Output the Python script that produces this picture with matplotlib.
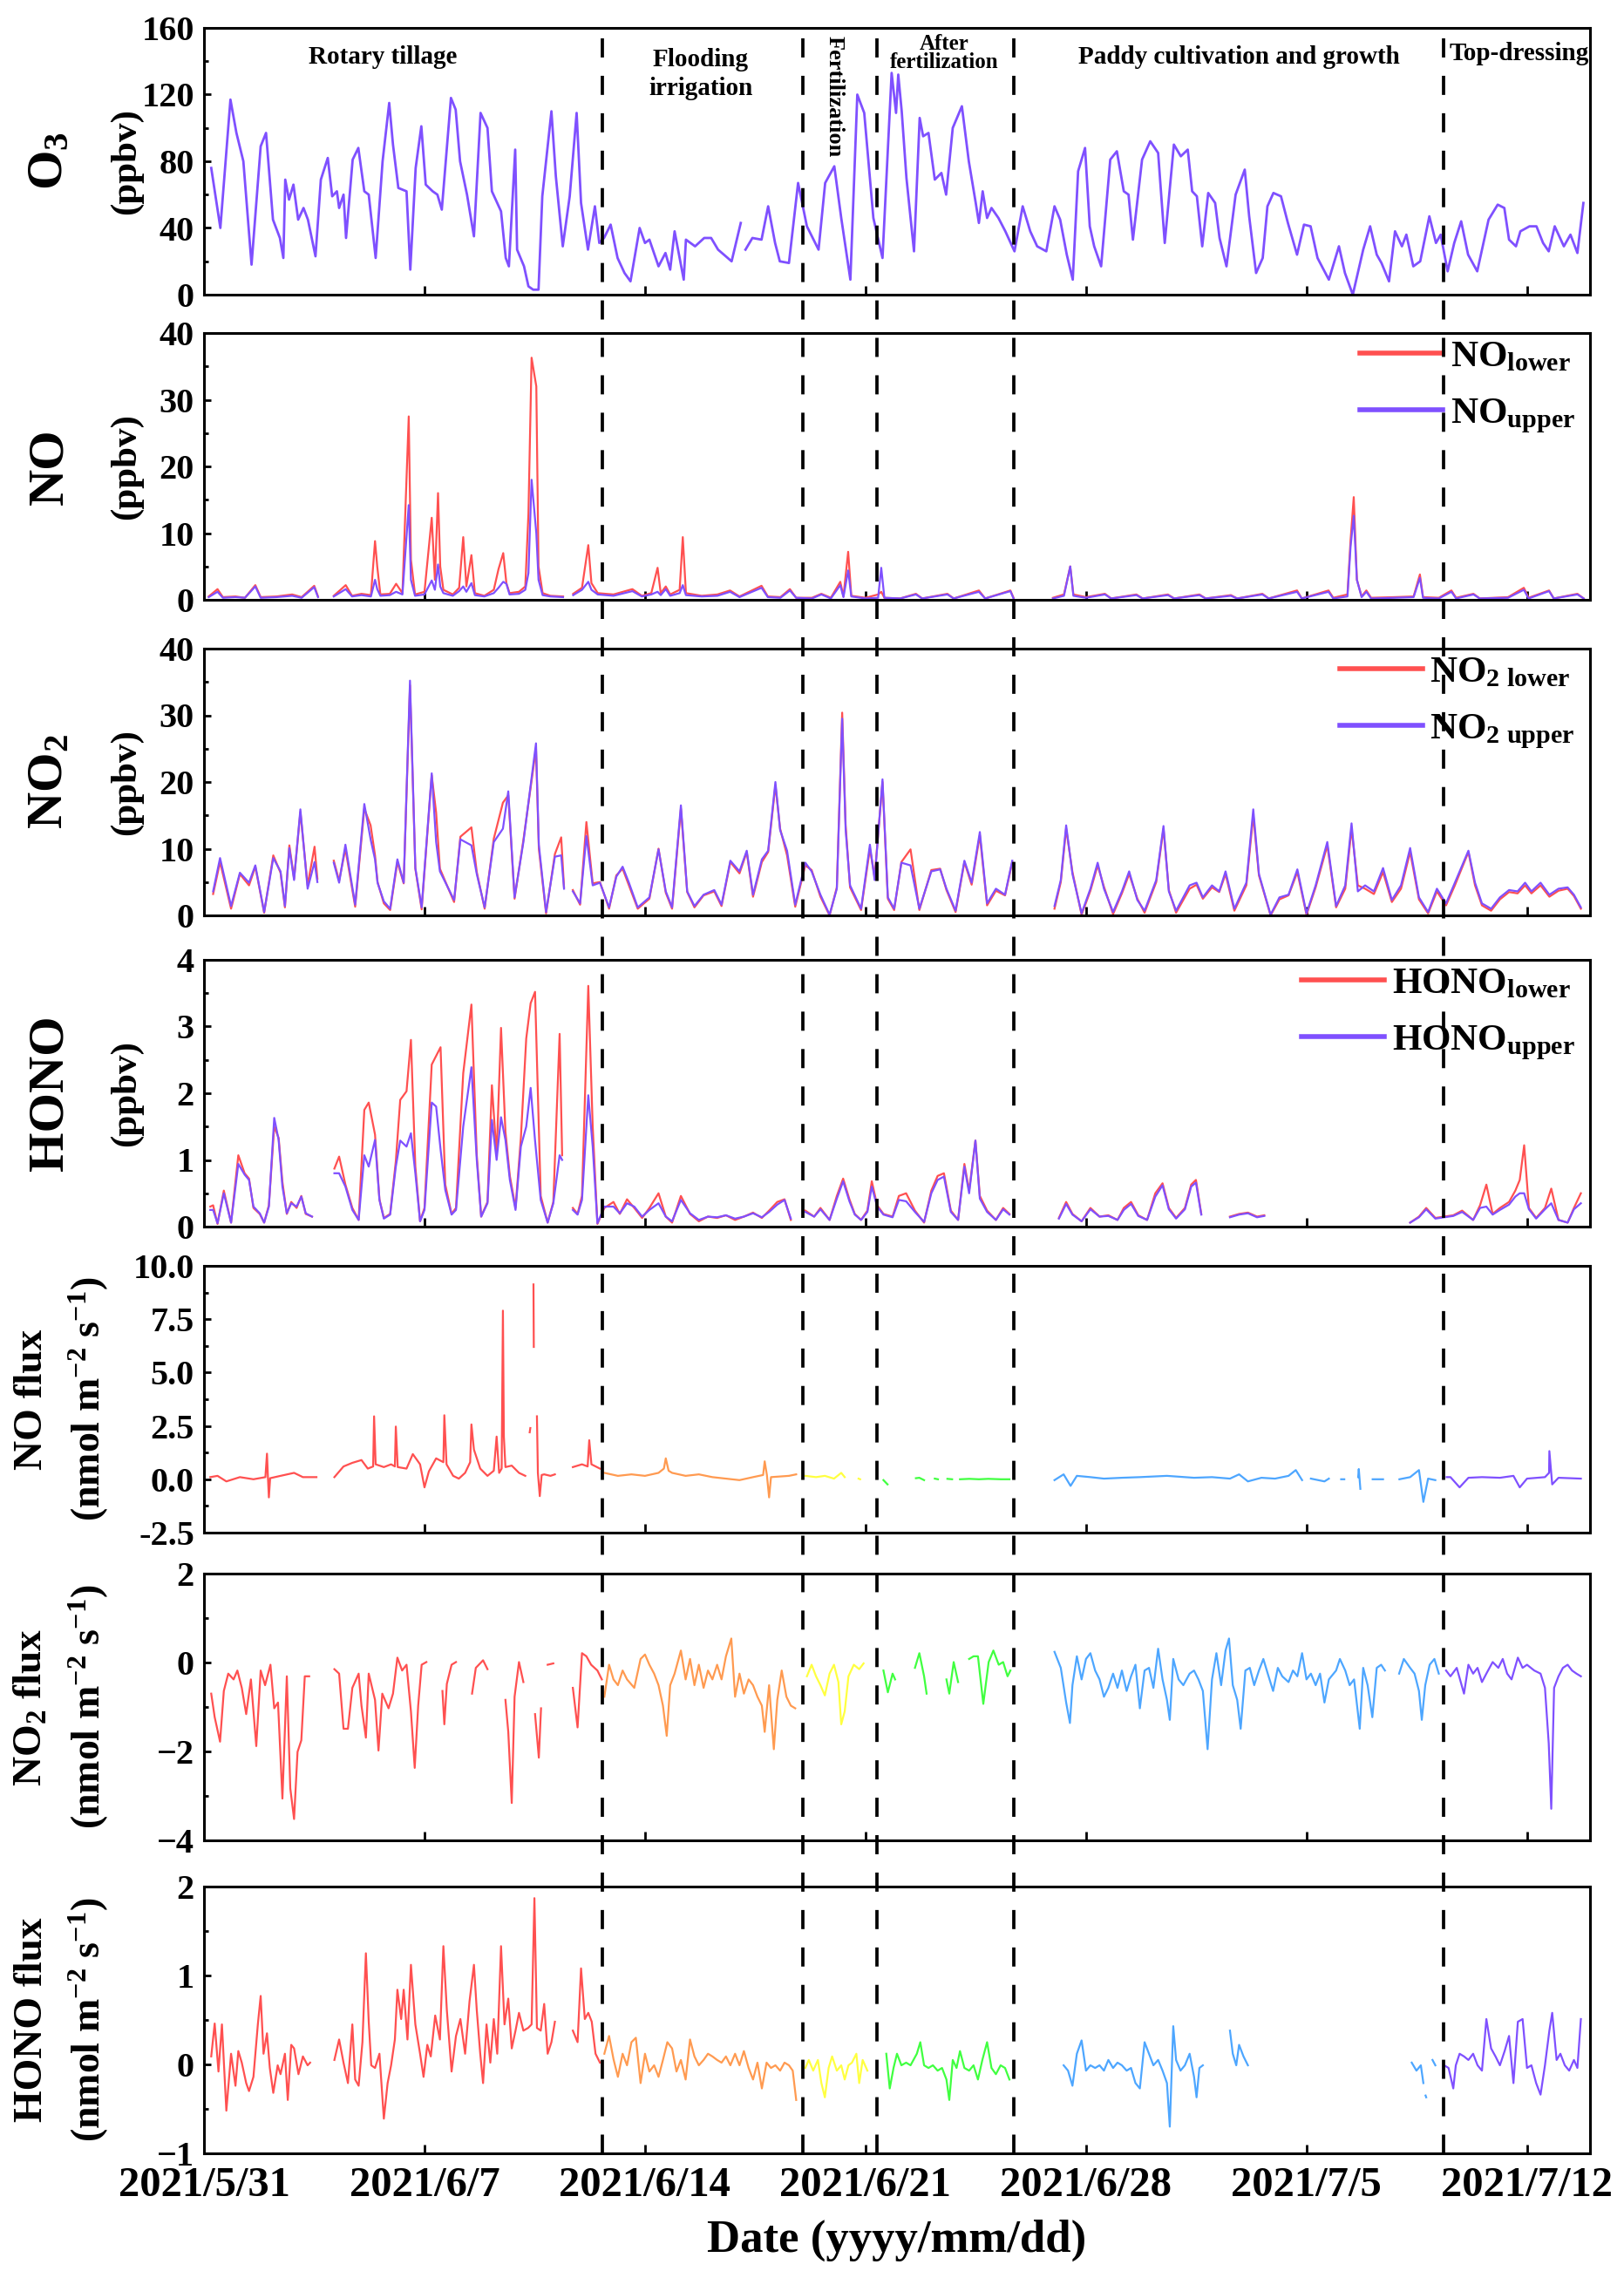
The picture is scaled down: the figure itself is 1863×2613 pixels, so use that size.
import numpy as np
import matplotlib
matplotlib.use('Agg')
import matplotlib.pyplot as plt
from matplotlib.ticker import MultipleLocator, FormatStrFormatter
from matplotlib.lines import Line2D
from matplotlib.transforms import blended_transform_factory

nan = np.nan

# x axis is in days since 2021/5/31 00:00
tick_days = [0, 7, 14, 21, 28, 35, 42]
tick_labels = ['2021/5/31', '2021/6/7', '2021/6/14', '2021/6/21',
               '2021/6/28', '2021/7/5', '2021/7/12']

# stage boundaries (dashed lines) and stage colours for the flux panels
stage_lines = [12.65, 19.0, 21.37, 25.72, 39.35]
stage_colors = ['#FF5050', '#FF9A50', '#FFFF40', '#40FF40', '#4DA6FF', '#7F50FF']
red = '#FF5050'
purple = '#7F50FF'

# ---- O3 (ppbv)
o3_time = [0.23, 0.52, 0.84, 1.03, 1.25, 1.51, 1.8, 1.97, 2.19, 2.41,
           2.52, 2.58, 2.7, 2.84, 2.99, 3.16, 3.3, 3.54, 3.71, 3.93,
           4.07, 4.22, 4.29, 4.43, 4.51, 4.72, 4.9, 5.09, 5.23, 5.45,
           5.67, 5.88, 6.0, 6.17, 6.43, 6.55, 6.72, 6.9, 7.04, 7.26,
           7.41, 7.55, 7.84, 7.99, 8.13, 8.35, 8.57, 8.78, 9.0, 9.14,
           9.43, 9.58, 9.68, 9.88, 9.94, 10.16, 10.3, 10.45, 10.62, 10.74,
           11.03, 11.17, 11.39, 11.61, 11.83, 11.97, 12.19, 12.41, 12.55, 12.7,
           12.91, 13.13, 13.35, 13.54, 13.83, 14.0, 14.14, 14.43, 14.65, 14.8,
           14.94, 15.23, 15.3, 15.59, 15.88, 16.1, 16.32, 16.75, 17.04, 17.1,
           17.19, 17.41, 17.7, 17.91, 18.13, 18.28, 18.57, 18.86, 19.14, 19.51,
           19.72, 20.01, 20.23, 20.52, 20.74, 20.96, 21.25, 21.54, 21.83, 21.97,
           22.04, 22.15, 22.3, 22.54, 22.72, 22.83, 23.0, 23.2, 23.41, 23.56,
           23.77, 24.06, 24.28, 24.5, 24.6, 24.72, 24.86, 25.0, 25.22, 25.44,
           25.73, 25.99, 26.23, 26.45, 26.74, 27.0, 27.18, 27.39, 27.58, 27.75,
           27.97, 28.12, 28.26, 28.48, 28.77, 28.98, 29.2, 29.35, 29.49, 29.78,
           30.04, 30.29, 30.5, 30.79, 31.01, 31.23, 31.37, 31.52, 31.69, 31.88,
           32.1, 32.24, 32.46, 32.75, 33.04, 33.18, 33.4, 33.61, 33.76, 33.95,
           34.19, 34.41, 34.7, 34.92, 35.13, 35.35, 35.71, 36.03, 36.22, 36.47,
           36.8, 37.02, 37.23, 37.38, 37.62, 37.81, 38.03, 38.17, 38.39, 38.61,
           38.9, 39.11, 39.26, 39.48, 39.69, 39.91, 40.13, 40.42, 40.78, 41.07,
           41.28, 41.43, 41.65, 41.79, 42.08, 42.3, 42.51, 42.69, 42.88, 43.17,
           43.38, 43.6, 43.79]
o3_vals = [76, 40, 117, 97, 80, 18, 89, 97, 45, 34,
           22, 69, 57, 66, 45, 52, 45, 23, 69, 82,
           59, 62, 52, 60, 34, 81, 88, 62, 60, 22,
           80, 115, 90, 64, 62, 15, 76, 101, 66, 62,
           60, 51, 118, 111, 80, 60, 35, 109, 100, 62,
           50, 22, 17, 87, 27, 17, 5, 3, 3, 59,
           110, 71, 29, 59, 109, 55, 27, 53, 31, 34,
           42, 22, 13, 8, 40, 31, 33, 17, 25, 15,
           38, 9, 33, 29, 34, 34, 27, 20, 43, nan,
           27, 34, 33, 53, 31, 20, 19, 67, 41, 27,
           67, 77, 46, 9, 120, 109, 46, 22, 133, 109,
           132, 110, 70, 26, 106, 95, 97, 69, 73, 60,
           100, 113, 80, 55, 43, 62, 46, 52, 46, 38,
           26, 53, 38, 29, 26, 53, 45, 24, 9, 74,
           88, 41, 29, 17, 81, 86, 62, 60, 33, 81,
           92, 85, 31, 90, 83, 87, 62, 59, 29, 61,
           55, 34, 17, 60, 75, 47, 13, 22, 53, 61,
           59, 43, 24, 42, 41, 22, 9, 29, 13, 0,
           27, 41, 24, 19, 8, 38, 29, 36, 17, 20,
           47, 31, 36, 14, 31, 44, 24, 14, 45, 54,
           52, 33, 29, 38, 41, 41, 31, 26, 41, 29,
           36, 25, 55]

# ---- NO (ppbv)
no_time = [0.15, 0.43, 0.6, 1.0, 1.3, 1.63, 1.8, 2.3, 2.8, 3.1,
           3.5, 3.62, 3.66, 4.12, 4.5, 4.7, 5.0, 5.3, 5.43, 5.5,
           5.6, 5.9, 6.1, 6.3, 6.5, 6.57, 6.7, 7.0, 7.23, 7.33,
           7.43, 7.5, 7.6, 7.9, 8.1, 8.23, 8.33, 8.49, 8.6, 8.9,
           9.2, 9.35, 9.5, 9.6, 9.7, 10.0, 10.2, 10.3, 10.4, 10.55,
           10.62, 10.75, 11.0, 11.4, 11.5, 11.72, 12.0, 12.2, 12.3, 12.5,
           13.0, 13.6, 13.9, 14.2, 14.4, 14.5, 14.66, 14.8, 15.1, 15.2,
           15.3, 15.8, 16.3, 16.7, 17.0, 17.7, 17.9, 18.3, 18.6, 18.8,
           19.3, 19.6, 19.9, 20.2, 20.3, 20.45, 20.55, 21.0, 21.4, 21.5,
           21.6, 22.1, 22.6, 22.8, 23.6, 23.8, 24.6, 24.8, 25.6, 25.7,
           25.75, 26.95, 27.3, 27.5, 27.6, 28.0, 28.6, 28.8, 29.6, 29.8,
           30.6, 30.8, 31.6, 31.8, 32.6, 32.8, 33.6, 33.8, 34.7, 34.85,
           35.7, 35.85, 36.3, 36.4, 36.5, 36.6, 36.75, 36.9, 37.05, 37.8,
           38.4, 38.6, 38.7, 39.2, 39.6, 39.75, 40.3, 40.5, 41.4, 41.9,
           42.05, 42.7, 42.85, 43.6, 43.8]
no_lower = [0.5, 1.6, 0.4, 0.5, 0.3, 2.2, 0.4, 0.5, 0.8, 0.4,
            2.1, 0.5, nan, 0.6, 2.2, 0.6, 0.9, 0.7, 8.8, 5.0,
            0.8, 0.9, 2.4, 1.0, 27.5, 6.0, 0.8, 1.2, 12.3, 3.0,
            16.0, 5.0, 1.5, 0.8, 1.8, 9.4, 2.0, 6.7, 1.0, 0.6,
            1.5, 4.6, 7.0, 2.5, 1.0, 1.2, 2.0, 12.9, 36.3, 32.0,
            5.0, 1.0, 0.6, 0.5, nan, 0.9, 1.8, 8.2, 2.5, 1.0,
            0.8, 1.6, 0.6, 1.0, 4.8, 1.0, 2.0, 0.8, 1.5, 9.4,
            1.0, 0.6, 0.8, 1.4, 0.5, 2.1, 0.5, 0.4, 1.6, 0.3,
            0.3, 0.9, 0.3, 2.7, 0.5, 7.2, 0.6, 0.3, 0.8, 1.2,
            0.3, 0.2, 0.9, 0.2, 0.9, 0.2, 1.4, 0.2, 1.4, 0.3,
            nan, 0.3, 0.8, 5.0, 0.8, 0.4, 0.9, 0.2, 0.8, 0.2,
            0.8, 0.2, 0.8, 0.2, 0.7, 0.2, 0.9, 0.2, 1.4, 0.2,
            1.4, 0.3, 0.8, 9.0, 15.4, 3.0, 0.5, 1.4, 0.3, 0.4,
            0.5, 3.8, 0.4, 0.3, 1.4, 0.3, 0.9, 0.2, 0.4, 1.8,
            0.3, 1.4, 0.2, 0.9, 0.2]
no_upper = [0.4, 1.2, 0.3, 0.4, 0.3, 2.0, 0.3, 0.4, 0.6, 0.3,
            1.9, 0.4, nan, 0.5, 1.6, 0.5, 0.7, 0.5, 3.0, 1.6,
            0.6, 0.7, 1.2, 0.8, 14.2, 3.0, 0.6, 0.8, 2.9, 1.5,
            5.3, 2.0, 1.0, 0.6, 1.3, 2.0, 1.2, 2.5, 0.7, 0.5,
            1.0, 1.8, 2.7, 2.4, 0.8, 0.9, 1.5, 4.0, 18.0, 10.0,
            3.0, 0.7, 0.5, 0.4, nan, 0.7, 1.5, 2.7, 1.5, 0.8,
            0.6, 1.3, 0.5, 0.8, 1.2, 0.7, 1.6, 0.6, 1.0, 2.2,
            0.7, 0.5, 0.6, 1.2, 0.4, 1.8, 0.4, 0.3, 1.4, 0.3,
            0.2, 0.8, 0.2, 2.2, 0.4, 4.4, 0.5, 0.2, 0.3, 4.8,
            0.3, 0.2, 0.8, 0.2, 0.8, 0.2, 1.2, 0.2, 1.3, 0.2,
            nan, 0.2, 0.6, 5.0, 0.6, 0.3, 0.8, 0.2, 0.7, 0.2,
            0.7, 0.2, 0.7, 0.2, 0.6, 0.2, 0.8, 0.2, 1.2, 0.2,
            1.2, 0.2, 0.5, 8.0, 12.6, 3.0, 0.4, 1.2, 0.2, 0.3,
            0.4, 3.3, 0.3, 0.2, 1.2, 0.2, 0.8, 0.2, 0.3, 1.5,
            0.2, 1.3, 0.2, 0.8, 0.2]

# ---- NO2 (ppbv)
no2_time = [0.29, 0.51, 0.86, 1.14, 1.43, 1.63, 1.91, 2.2, 2.43, 2.57,
            2.71, 2.86, 3.06, 3.29, 3.51, 3.6, 3.63, 4.12, 4.29, 4.49,
            4.8, 5.09, 5.29, 5.43, 5.51, 5.71, 5.91, 6.14, 6.34, 6.54,
            6.71, 6.91, 7.23, 7.37, 7.49, 7.94, 8.14, 8.49, 8.66, 8.91,
            9.2, 9.49, 9.66, 9.86, 10.14, 10.54, 10.63, 10.86, 11.14, 11.34,
            11.43, 11.5, 11.71, 11.94, 12.14, 12.34, 12.57, 12.86, 13.09, 13.29,
            13.49, 13.77, 14.14, 14.43, 14.66, 14.86, 15.14, 15.34, 15.57, 15.86,
            16.2, 16.43, 16.71, 17.0, 17.23, 17.43, 17.71, 17.91, 18.14, 18.29,
            18.51, 18.77, 19.09, 19.29, 19.57, 19.86, 20.09, 20.26, 20.37, 20.51,
            20.86, 21.14, 21.29, 21.54, 21.71, 21.91, 22.14, 22.43, 22.71, 23.09,
            23.37, 23.57, 23.86, 24.14, 24.37, 24.63, 24.86, 25.14, 25.43, 25.66,
            25.72, 27.0, 27.2, 27.37, 27.57, 27.86, 28.14, 28.37, 28.57, 28.86,
            29.14, 29.37, 29.63, 29.86, 30.23, 30.46, 30.63, 30.86, 31.29, 31.51,
            31.71, 32.0, 32.23, 32.43, 32.71, 33.09, 33.31, 33.49, 33.86, 34.14,
            34.43, 34.71, 35.0, 35.29, 35.66, 35.94, 36.23, 36.43, 36.63, 36.86,
            37.14, 37.43, 37.71, 38.0, 38.29, 38.57, 38.86, 39.14, 39.43, 39.71,
            40.14, 40.35, 40.57, 40.86, 41.14, 41.43, 41.7, 41.94, 42.14, 42.43,
            42.71, 43.0, 43.29, 43.49, 43.71]
no2_upper = [3.6, 8.6, 1.4, 6.4, 4.9, 7.5, 0.5, 8.6, 6.6, 1.4,
             10.1, 5.3, 15.9, 4.0, 8.0, 5.0, nan, 7.9, 4.9, 10.6,
             1.6, 16.7, 11.4, 8.4, 4.9, 2.1, 1.0, 8.4, 4.9, 35.2,
             7.1, 1.2, 21.3, 11.0, 6.6, 2.3, 11.4, 10.5, 6.2, 1.2,
             11.0, 13.0, 18.6, 2.7, 11.0, 25.8, 10.6, 0.5, 8.8, 9.0,
             4.0, nan, 3.6, 1.8, 11.9, 4.5, 4.9, 1.2, 5.8, 7.3,
             4.9, 1.2, 2.7, 9.9, 3.6, 1.2, 16.5, 3.6, 1.4, 3.1,
             3.8, 1.6, 8.2, 6.6, 9.7, 3.1, 8.4, 9.7, 20.0, 12.8,
             9.7, 1.6, 7.9, 6.6, 3.1, 0.1, 4.0, 29.5, 12.8, 4.5,
             1.0, 10.6, 5.3, 20.4, 2.7, 1.0, 7.9, 7.5, 1.0, 6.6,
             6.9, 4.0, 0.7, 8.2, 4.9, 12.5, 1.8, 4.0, 3.1, 8.2,
             nan, 1.4, 5.3, 13.5, 6.2, 0.3, 4.0, 7.9, 4.0, 0.5,
             3.6, 6.6, 2.3, 0.7, 5.3, 13.4, 3.6, 0.7, 4.5, 4.9,
             2.7, 4.5, 3.6, 6.6, 1.0, 4.9, 15.9, 6.2, 0.1, 2.7,
             3.1, 6.9, 0.3, 4.5, 11.0, 1.4, 4.5, 13.8, 3.6, 4.5,
             3.6, 7.1, 2.3, 4.5, 10.1, 2.7, 0.5, 4.0, 1.8, 4.9,
             9.7, 4.9, 1.8, 1.0, 2.7, 3.8, 3.6, 4.9, 3.6, 4.9,
             3.1, 4.0, 4.2, 3.1, 1.2]
no2_lower = [3.2, 8.0, 1.0, 6.2, 4.5, 7.3, 0.4, 9.0, 6.4, 1.2,
             10.5, 5.5, 15.5, 4.5, 10.3, 5.5, nan, 8.2, 5.2, 10.0,
             1.3, 16.0, 13.5, 9.0, 5.0, 1.8, 0.8, 8.0, 4.8, 34.5,
             7.0, 0.9, 21.0, 15.4, 7.0, 2.0, 11.8, 13.2, 6.5, 1.0,
             11.5, 16.9, 18.0, 2.5, 11.3, 25.0, 10.0, 0.3, 9.2, 11.7,
             4.2, nan, 3.8, 1.6, 14.0, 4.8, 5.0, 1.0, 6.0, 7.0,
             4.5, 1.0, 2.5, 10.0, 3.4, 1.0, 16.0, 3.5, 1.2, 3.0,
             3.6, 1.4, 8.0, 6.3, 9.5, 2.8, 8.0, 9.5, 19.5, 13.0,
             9.0, 1.3, 7.5, 6.8, 2.8, 0.0, 4.2, 30.4, 13.5, 4.2,
             0.8, 10.0, 5.8, 20.0, 2.5, 0.8, 8.0, 9.9, 0.8, 6.8,
             7.0, 3.8, 0.5, 8.0, 4.6, 12.0, 1.5, 3.7, 3.0, 8.0,
             nan, 1.0, 5.0, 13.0, 6.5, 0.1, 3.7, 7.5, 4.3, 0.2,
             3.3, 6.2, 2.5, 0.4, 5.0, 13.0, 3.8, 0.4, 4.0, 4.6,
             2.5, 4.2, 3.5, 6.2, 0.7, 4.5, 15.0, 6.0, 0.0, 2.4,
             3.0, 6.5, 0.1, 4.2, 10.5, 1.2, 4.0, 13.0, 4.5, 4.0,
             3.2, 6.5, 2.0, 4.0, 9.5, 2.4, 0.3, 3.6, 1.5, 4.5,
             9.5, 4.5, 1.5, 0.7, 2.4, 3.5, 3.3, 4.5, 3.3, 4.5,
             2.8, 3.7, 4.0, 2.9, 1.0]

# ---- HONO (ppbv)
hono_time = [0.2, 0.29, 0.43, 0.63, 0.86, 1.09, 1.29, 1.43, 1.57, 1.77,
             1.91, 2.06, 2.23, 2.37, 2.49, 2.63, 2.77, 2.94, 3.09, 3.23,
             3.43, 3.5, 4.14, 4.29, 4.49, 4.71, 4.91, 5.09, 5.23, 5.43,
             5.57, 5.71, 5.91, 6.09, 6.23, 6.43, 6.57, 6.71, 6.86, 7.0,
             7.23, 7.37, 7.51, 7.66, 7.86, 8.0, 8.23, 8.49, 8.66, 8.8,
             9.0, 9.14, 9.29, 9.43, 9.57, 9.71, 9.89, 10.06, 10.23, 10.37,
             10.51, 10.69, 10.91, 11.09, 11.29, 11.37, 11.45, 11.71, 11.86, 12.0,
             12.2, 12.34, 12.49, 12.71, 13.0, 13.2, 13.43, 13.66, 13.91, 14.14,
             14.43, 14.66, 14.86, 15.14, 15.43, 15.71, 16.0, 16.29, 16.57, 16.86,
             17.14, 17.43, 17.71, 17.94, 18.2, 18.43, 18.63, 18.75, 19.09, 19.37,
             19.57, 19.86, 20.09, 20.29, 20.49, 20.66, 20.86, 21.06, 21.2, 21.37,
             21.57, 21.86, 22.06, 22.29, 22.57, 22.86, 23.09, 23.29, 23.49, 23.71,
             23.94, 24.14, 24.29, 24.49, 24.63, 24.86, 25.14, 25.37, 25.57, 25.65,
             27.14, 27.37, 27.57, 27.86, 28.14, 28.43, 28.71, 29.0, 29.2, 29.43,
             29.66, 29.94, 30.2, 30.43, 30.63, 30.86, 31.14, 31.34, 31.49, 31.66,
             31.75, 32.57, 32.86, 33.14, 33.43, 33.66, 33.75, 38.29, 38.57, 38.8,
             39.09, 39.37, 39.66, 39.94, 40.29, 40.51, 40.71, 40.91, 41.14, 41.43,
             41.63, 41.77, 41.91, 42.06, 42.29, 42.57, 42.77, 43.0, 43.29, 43.49,
             43.71]
hono_lower = [0.3, 0.32, 0.04, 0.54, 0.06, 1.07, 0.8, 0.72, 0.28, 0.19,
              0.06, 0.32, 1.5, 1.33, 0.67, 0.19, 0.37, 0.28, 0.46, 0.19,
              0.15, nan, 0.87, 1.05, 0.63, 0.28, 0.1, 1.75, 1.86, 1.38,
              0.41, 0.13, 0.19, 0.98, 1.9, 2.03, 2.8, 0.9, 0.08, 0.28,
              2.43, 2.56, 2.69, 0.63, 0.19, 0.28, 2.3, 3.33, 1.07, 0.15,
              0.37, 2.12, 1.07, 2.98, 1.42, 0.76, 0.28, 1.33, 2.82, 3.35,
              3.52, 0.46, 0.06, 0.37, 2.89, 1.07, nan, 0.28, 0.19, 0.46,
              3.61, 1.5, 0.04, 0.28, 0.37, 0.19, 0.41, 0.28, 0.13, 0.28,
              0.5, 0.15, 0.06, 0.46, 0.19, 0.08, 0.15, 0.13, 0.17, 0.1,
              0.15, 0.21, 0.13, 0.24, 0.37, 0.41, 0.1, nan, 0.24, 0.15,
              0.28, 0.1, 0.46, 0.72, 0.41, 0.19, 0.1, 0.24, 0.68, 0.32,
              0.19, 0.15, 0.46, 0.5, 0.24, 0.06, 0.54, 0.76, 0.8, 0.24,
              0.1, 0.94, 0.54, 1.29, 0.46, 0.24, 0.1, 0.28, 0.19, nan,
              0.13, 0.37, 0.19, 0.08, 0.28, 0.15, 0.17, 0.1, 0.28, 0.37,
              0.17, 0.1, 0.5, 0.65, 0.28, 0.13, 0.28, 0.63, 0.7, 0.19,
              nan, 0.15, 0.19, 0.21, 0.15, 0.17, nan, 0.06, 0.15, 0.28,
              0.13, 0.15, 0.17, 0.24, 0.1, 0.32, 0.63, 0.19, 0.28, 0.37,
              0.54, 0.7, 1.22, 0.28, 0.13, 0.28, 0.57, 0.1, 0.06, 0.28,
              0.5]
hono_upper = [0.25, 0.25, 0.05, 0.5, 0.06, 0.94, 0.78, 0.7, 0.3, 0.2,
              0.06, 0.3, 1.63, 1.3, 0.6, 0.2, 0.35, 0.3, 0.45, 0.2,
              0.15, nan, 0.8, 0.8, 0.6, 0.25, 0.1, 1.07, 0.9, 1.3,
              0.4, 0.12, 0.18, 0.9, 1.29, 1.2, 1.4, 0.8, 0.08, 0.25,
              1.86, 1.8, 1.16, 0.55, 0.18, 0.25, 1.5, 2.39, 1.0, 0.15,
              0.35, 1.6, 1.0, 1.64, 1.3, 0.7, 0.25, 1.2, 1.5, 2.08,
              1.29, 0.4, 0.06, 0.35, 1.07, 1.0, nan, 0.25, 0.18, 0.4,
              1.97, 1.2, 0.05, 0.3, 0.3, 0.2, 0.35, 0.3, 0.15, 0.25,
              0.35, 0.15, 0.08, 0.4, 0.2, 0.1, 0.15, 0.14, 0.17, 0.12,
              0.15, 0.2, 0.14, 0.22, 0.33, 0.4, 0.12, nan, 0.22, 0.15,
              0.26, 0.1, 0.42, 0.68, 0.38, 0.18, 0.1, 0.22, 0.6, 0.3,
              0.18, 0.14, 0.4, 0.38, 0.22, 0.07, 0.5, 0.7, 0.75, 0.22,
              0.1, 0.9, 0.5, 1.29, 0.42, 0.22, 0.1, 0.26, 0.18, nan,
              0.12, 0.34, 0.18, 0.08, 0.26, 0.15, 0.16, 0.1, 0.25, 0.34,
              0.16, 0.1, 0.45, 0.62, 0.26, 0.12, 0.26, 0.6, 0.66, 0.18,
              nan, 0.14, 0.18, 0.2, 0.14, 0.16, nan, 0.06, 0.14, 0.26,
              0.12, 0.14, 0.16, 0.22, 0.1, 0.28, 0.3, 0.18, 0.25, 0.33,
              0.45, 0.5, 0.5, 0.26, 0.12, 0.26, 0.35, 0.1, 0.06, 0.26,
              0.35]

# ---- NO flux (nmol m-2 s-1)
no_flux_time = [0.2, 0.43, 0.71, 1.14, 1.57, 1.95, 2.0, 2.03, 2.06, 2.1,
                2.43, 2.86, 3.14, 3.57, 3.62, 4.14, 4.43, 4.71, 5.0, 5.2,
                5.37, 5.4, 5.45, 5.71, 5.94, 6.06, 6.09, 6.15, 6.43, 6.63,
                6.86, 7.0, 7.14, 7.37, 7.6, 7.63, 7.7, 7.91, 8.09, 8.29,
                8.45, 8.49, 8.57, 8.77, 9.0, 9.2, 9.29, 9.37, 9.45, 9.49,
                9.52, 9.57, 9.77, 10.0, 10.2, 10.25, 10.34, 10.36, 10.4, 10.46,
                10.47, 10.5, 10.57, 10.6, 10.66, 10.72, 10.8, 11.0, 11.14, 11.2,
                11.71, 12.0, 12.18, 12.23, 12.3, 12.57, 12.71, 13.14, 13.57, 14.0,
                14.43, 14.6, 14.66, 14.75, 14.86, 15.29, 15.71, 16.14, 16.57, 17.0,
                17.43, 17.75, 17.8, 17.87, 17.94, 18.0, 18.57, 18.8, 18.9, 19.09,
                19.43, 19.71, 20.0, 20.23, 20.34, 20.4, 20.78, 20.83, 20.9, 21.57,
                21.7, 21.75, 22.6, 22.71, 22.86, 22.9, 23.2, 23.3, 23.35, 23.6,
                23.75, 23.8, 24.0, 24.3, 24.6, 24.9, 25.3, 25.57, 25.65, 27.0,
                27.29, 27.51, 27.71, 28.14, 28.57, 29.14, 29.71, 30.57, 31.43, 32.0,
                32.57, 32.86, 33.14, 33.57, 34.0, 34.43, 34.66, 34.86, 34.92, 35.14,
                35.57, 35.71, 35.8, 36.1, 36.2, 36.25, 36.64, 36.66, 36.71, 36.75,
                37.1, 37.43, 37.5, 37.95, 38.29, 38.57, 38.71, 38.86, 39.09, 39.2,
                39.45, 39.57, 39.86, 40.14, 40.57, 41.14, 41.57, 41.77, 42.0, 42.57,
                42.7, 42.71, 42.8, 43.0, 43.71]
no_flux = [0.1, 0.16, -0.1, 0.1, 0.0, 0.1, 1.2, 0.1, -0.85, 0.05,
           0.16, 0.3, 0.1, 0.1, nan, 0.1, 0.6, 0.77, 0.9, 0.5,
           0.6, 2.95, 0.7, 0.57, 0.7, 0.6, 2.47, 0.57, 0.5, 1.18,
           0.7, -0.38, 0.37, 0.98, 0.8, 3.0, 0.7, 0.16, 0.03, 0.3,
           0.8, 2.57, 1.39, 0.5, 0.16, 0.4, 2.0, 0.3, 0.5, 7.9,
           2.0, 0.57, 0.64, 0.3, 0.16, nan, 2.2, 2.4, nan, 9.13,
           6.2, nan, 2.95, 0.3, -0.79, 0.2, 0.23, 0.16, 0.23, nan,
           0.57, 0.7, 0.6, 1.83, 0.7, 0.5, 0.3, 0.16, 0.23, 0.16,
           0.3, 0.5, 0.98, 0.4, 0.3, 0.16, 0.23, 0.1, 0.03, -0.04,
           0.1, 0.2, 0.84, 0.2, -0.85, 0.1, 0.16, 0.23, nan, 0.16,
           0.1, 0.16, 0.03, 0.3, 0.1, nan, 0.03, 0.0, nan, -0.04,
           -0.24, nan, 0.05, 0.07, -0.04, nan, 0.03, 0.0, nan, 0.02,
           0.0, nan, 0.0, 0.02, 0.0, 0.02, 0.0, 0.0, nan, -0.04,
           0.23, -0.31, 0.16, 0.1, 0.03, 0.07, 0.1, 0.16, 0.07, 0.1,
           0.03, 0.23, -0.1, 0.07, 0.03, 0.16, 0.43, -0.04, nan, 0.03,
           -0.1, 0.03, nan, 0.0, 0.0, nan, 0.1, 0.48, -0.45, nan,
           0.0, 0.0, nan, 0.0, 0.1, 0.43, -1.06, 0.03, -0.04, nan,
           0.1, 0.1, -0.38, 0.07, 0.1, 0.07, 0.16, -0.38, 0.03, 0.1,
           0.3, 1.32, -0.24, 0.07, 0.03]

# ---- NO2 flux (nmol m-2 s-1)
no2_flux_time = [0.23, 0.34, 0.51, 0.63, 0.77, 0.94, 1.06, 1.2, 1.34, 1.49,
                 1.66, 1.8, 1.94, 2.11, 2.23, 2.35, 2.49, 2.63, 2.74, 2.86,
                 2.97, 3.09, 3.2, 3.34, 3.4, 4.14, 4.29, 4.43, 4.57, 4.71,
                 4.91, 5.0, 5.14, 5.23, 5.43, 5.54, 5.66, 5.86, 6.0, 6.14,
                 6.29, 6.43, 6.57, 6.69, 6.8, 6.91, 7.06, 7.1, 7.57, 7.63,
                 7.71, 7.86, 8.0, 8.05, 8.51, 8.63, 8.86, 9.0, 9.05, 9.57,
                 9.66, 9.77, 9.86, 10.0, 10.14, 10.2, 10.51, 10.63, 10.7, 10.75,
                 10.91, 11.09, 11.15, 11.71, 11.86, 12.0, 12.14, 12.29, 12.49, 12.63,
                 12.71, 12.86, 13.0, 13.14, 13.29, 13.43, 13.66, 13.86, 14.0, 14.14,
                 14.29, 14.43, 14.57, 14.69, 14.8, 14.94, 15.14, 15.29, 15.43, 15.57,
                 15.71, 15.86, 16.0, 16.14, 16.29, 16.43, 16.57, 16.74, 16.86, 17.0,
                 17.14, 17.29, 17.43, 17.57, 17.71, 17.8, 17.94, 18.09, 18.2, 18.34,
                 18.49, 18.63, 18.77, 19.14, 19.29, 19.43, 19.57, 19.71, 19.86, 20.0,
                 20.14, 20.23, 20.34, 20.46, 20.63, 20.8, 20.94, 21.0, 21.57, 21.71,
                 21.86, 21.94, 22.0, 22.57, 22.71, 22.86, 22.94, 23.0, 23.57, 23.66,
                 23.8, 23.94, 24.0, 24.29, 24.43, 24.57, 24.74, 24.91, 25.06, 25.23,
                 25.37, 25.51, 25.6, 25.65, 27.0, 27.2, 27.37, 27.49, 27.57, 27.71,
                 27.86, 28.0, 28.14, 28.29, 28.43, 28.57, 28.71, 28.86, 29.0, 29.14,
                 29.29, 29.43, 29.57, 29.71, 29.86, 30.0, 30.14, 30.29, 30.43, 30.57,
                 30.66, 30.77, 30.94, 31.09, 31.29, 31.43, 31.57, 31.71, 31.86, 32.0,
                 32.14, 32.29, 32.43, 32.54, 32.66, 32.8, 32.91, 33.06, 33.2, 33.34,
                 33.49, 33.63, 33.77, 33.94, 34.09, 34.23, 34.43, 34.57, 34.71, 34.86,
                 35.0, 35.14, 35.29, 35.43, 35.57, 35.71, 35.94, 36.06, 36.23, 36.37,
                 36.51, 36.69, 36.8, 36.94, 37.09, 37.23, 37.37, 37.49, 37.55, 37.94,
                 38.09, 38.29, 38.43, 38.57, 38.66, 38.77, 38.91, 39.06, 39.2, 39.43,
                 39.57, 39.77, 40.0, 40.14, 40.29, 40.43, 40.57, 40.71, 40.91, 41.09,
                 41.23, 41.37, 41.51, 41.71, 41.86, 42.0, 42.23, 42.43, 42.57, 42.69,
                 42.77, 42.86, 43.0, 43.14, 43.29, 43.43, 43.57, 43.71]
no2_flux = [-0.7, -1.23, -1.78, -0.64, -0.25, -0.38, -0.18, -0.57, -1.16, -0.38,
            -1.88, -0.18, -0.51, -0.05, -1.03, -0.9, -3.06, -0.31, -2.83, -3.52,
            -2.01, -1.75, -0.31, -0.31, nan, -0.15, -0.25, -1.49, -1.49, -0.57,
            -0.25, -0.97, -1.69, -0.25, -0.84, -1.98, -0.7, -1.03, -0.7, 0.11,
            -0.18, -0.05, -1.1, -2.37, -0.97, -0.05, 0.01, nan, -0.64, -1.39,
            -0.48, -0.05, 0.01, nan, -0.7, -0.12, 0.05, -0.15, nan, -0.84,
            -1.56, -3.16, -0.77, 0.01, -0.44, nan, -1.16, -2.14, -1.03, nan,
            -0.05, -0.02, nan, -0.57, -1.46, 0.21, 0.14, -0.05, -0.18, -0.38,
            -0.77, -0.05, -0.38, -0.51, -0.18, -0.38, -0.57, 0.08, 0.18, -0.05,
            -0.25, -0.51, -0.97, -1.65, -0.51, -0.25, 0.27, -0.38, 0.08, -0.51,
            -0.05, -0.57, -0.18, -0.38, -0.05, -0.38, 0.14, 0.54, -0.77, -0.25,
            -0.7, -0.38, -0.51, -0.77, -0.97, -1.56, -0.51, -1.95, -0.84, -0.18,
            -0.77, -0.97, -1.03, -0.31, -0.05, -0.31, -0.51, -0.74, -0.25, -0.05,
            -0.44, -1.39, -1.1, -0.31, -0.05, -0.15, -0.02, nan, -0.18, -0.67,
            -0.25, -0.38, nan, -0.12, 0.21, -0.31, -0.7, nan, -0.38, -0.7,
            0.01, -0.44, nan, 0.08, 0.14, 0.14, -0.93, 0.01, 0.27, -0.05,
            0.01, -0.31, -0.18, nan, 0.24, -0.12, -0.9, -1.36, -0.51, 0.14,
            -0.38, 0.08, 0.21, -0.18, -0.38, -0.77, -0.57, -0.25, -0.57, -0.18,
            -0.64, -0.31, -0.05, -1.03, -0.18, -0.12, -0.57, 0.31, -0.38, -0.84,
            -1.29, 0.08, -0.38, -0.51, -0.25, -0.18, -0.38, -0.64, -1.95, -0.38,
            0.21, -0.51, 0.27, 0.54, -0.51, -0.84, -1.49, -0.18, -0.12, -0.51,
            -0.18, 0.08, -0.25, -0.64, -0.12, -0.31, -0.44, -0.18, -0.31, 0.21,
            -0.38, -0.25, -0.51, -0.25, -0.9, -0.38, -0.18, 0.08, -0.18, -0.51,
            -0.38, -1.49, -0.12, -0.51, -1.23, -0.12, -0.05, -0.18, nan, -0.25,
            0.08, -0.12, -0.25, -0.64, -1.29, -0.51, -0.05, 0.08, -0.25, -0.18,
            -0.31, -0.12, -0.7, -0.05, -0.25, -0.12, -0.44, -0.25, 0.01, -0.12,
            0.08, -0.25, -0.38, 0.11, -0.12, -0.05, -0.18, -0.25, -0.57, -1.82,
            -3.29, -0.57, -0.31, -0.12, -0.05, -0.18, -0.25, -0.31]

# ---- HONO flux (nmol m-2 s-1)
hono_flux_time = [0.23, 0.34, 0.46, 0.57, 0.71, 0.86, 1.0, 1.09, 1.2, 1.34,
                  1.43, 1.57, 1.71, 1.8, 1.89, 2.0, 2.09, 2.2, 2.34, 2.43,
                  2.57, 2.66, 2.77, 2.86, 3.0, 3.14, 3.29, 3.37, 3.45, 4.14,
                  4.29, 4.43, 4.57, 4.71, 4.8, 4.91, 5.03, 5.14, 5.23, 5.31,
                  5.43, 5.57, 5.71, 5.83, 5.94, 6.06, 6.14, 6.26, 6.34, 6.46,
                  6.57, 6.71, 6.86, 6.97, 7.09, 7.2, 7.34, 7.49, 7.6, 7.71,
                  7.86, 8.0, 8.14, 8.29, 8.43, 8.57, 8.66, 8.77, 8.86, 8.97,
                  9.09, 9.2, 9.31, 9.43, 9.54, 9.66, 9.77, 9.89, 10.0, 10.14,
                  10.29, 10.4, 10.49, 10.57, 10.69, 10.8, 10.91, 11.03, 11.14, 11.2,
                  11.71, 11.86, 11.97, 12.09, 12.2, 12.31, 12.43, 12.57, 12.71, 12.86,
                  13.0, 13.14, 13.29, 13.43, 13.57, 13.71, 13.86, 14.0, 14.14, 14.29,
                  14.43, 14.57, 14.71, 14.86, 15.0, 15.14, 15.29, 15.43, 15.57, 15.71,
                  15.86, 16.0, 16.14, 16.29, 16.43, 16.57, 16.71, 16.86, 17.0, 17.14,
                  17.29, 17.43, 17.57, 17.71, 17.86, 18.0, 18.14, 18.29, 18.43, 18.57,
                  18.69, 18.8, 19.09, 19.2, 19.34, 19.49, 19.6, 19.71, 19.83, 19.94,
                  20.09, 20.23, 20.34, 20.46, 20.57, 20.71, 20.8, 20.91, 21.06, 21.66,
                  21.77, 21.89, 22.0, 22.14, 22.29, 22.43, 22.63, 22.74, 22.86, 23.0,
                  23.14, 23.29, 23.43, 23.57, 23.66, 23.77, 23.89, 24.0, 24.14, 24.29,
                  24.43, 24.57, 24.71, 24.86, 25.0, 25.14, 25.29, 25.43, 25.57, 27.29,
                  27.43, 27.57, 27.71, 27.86, 28.0, 28.14, 28.29, 28.43, 28.57, 28.71,
                  28.86, 29.0, 29.14, 29.29, 29.43, 29.57, 29.71, 29.86, 30.0, 30.14,
                  30.29, 30.43, 30.57, 30.66, 30.77, 30.86, 31.0, 31.14, 31.29, 31.43,
                  31.51, 31.6, 31.71, 31.8, 32.57, 32.66, 32.77, 32.86, 33.0, 33.14,
                  33.2, 38.34, 38.49, 38.63, 38.71, 38.74, 38.78, 38.8, 38.83, 39.0,
                  39.09, 39.37, 39.51, 39.66, 39.74, 39.86, 40.0, 40.14, 40.29, 40.43,
                  40.57, 40.71, 40.86, 41.0, 41.14, 41.29, 41.43, 41.57, 41.71, 41.86,
                  42.0, 42.14, 42.29, 42.43, 42.57, 42.71, 42.8, 42.94, 43.06, 43.2,
                  43.34, 43.49, 43.6, 43.71]
hono_flux = [0.09, 0.46, -0.08, 0.45, -0.52, 0.12, -0.24, 0.15, 0.02, -0.21,
             -0.3, -0.14, 0.45, 0.77, 0.12, 0.35, -0.04, -0.32, -0.01, -0.11,
             0.12, -0.4, 0.22, 0.18, -0.11, 0.09, -0.01, 0.02, nan, 0.05,
             0.28, 0.02, -0.21, 0.45, -0.17, -0.24, 0.25, 1.25, 0.48, -0.01,
             -0.04, 0.12, -0.61, -0.21, -0.01, 0.28, 0.84, 0.51, 0.84, 0.28,
             1.12, 0.45, 0.12, -0.14, 0.22, 0.09, 0.55, 0.28, 1.33, 0.61,
             -0.08, 0.32, 0.51, 0.12, 0.71, 1.12, 0.61, 0.12, -0.21, 0.45,
             0.02, 0.51, 0.12, 1.33, 0.45, 0.74, 0.18, 0.38, 0.58, 0.38,
             0.41, 0.45, 1.87, 0.41, 0.38, 0.68, 0.12, 0.25, 0.48, nan,
             0.38, 0.25, 1.08, 0.51, 0.58, 0.48, 0.12, 0.02, 0.12, 0.32,
             0.06, -0.14, 0.12, -0.01, 0.25, 0.3, -0.21, 0.12, -0.08, -0.01,
             -0.14, 0.05, 0.25, 0.18, -0.08, 0.05, -0.17, 0.28, 0.09, -0.01,
             0.05, 0.12, 0.09, 0.05, 0.02, 0.09, -0.01, 0.12, -0.01, 0.15,
             -0.04, -0.17, 0.02, -0.27, 0.02, -0.04, -0.01, -0.07, 0.02, -0.01,
             -0.07, -0.4, -0.04, 0.05, -0.07, 0.05, -0.21, -0.37, -0.04, 0.09,
             -0.07, -0.01, -0.17, -0.01, 0.02, 0.12, -0.21, 0.05, -0.07, 0.12,
             -0.27, -0.04, 0.12, -0.01, 0.02, -0.01, 0.12, 0.25, -0.01, -0.04,
             -0.01, -0.07, -0.04, -0.17, -0.4, 0.05, -0.04, 0.15, -0.04, -0.07,
             -0.01, -0.17, 0.05, 0.25, -0.04, -0.11, -0.01, -0.04, -0.17, -0.01,
             -0.07, -0.24, 0.12, 0.27, -0.07, -0.01, -0.04, -0.01, -0.07, 0.05,
             -0.04, 0.02, -0.01, -0.07, -0.04, -0.21, -0.27, 0.25, 0.12, -0.01,
             0.05, -0.07, -0.21, -0.7, 0.43, 0.05, -0.07, -0.01, 0.12, -0.14,
             -0.37, -0.04, -0.01, nan, 0.38, 0.12, -0.01, 0.22, 0.09, -0.01,
             nan, 0.02, -0.07, -0.01, -0.21, nan, -0.35, -0.37, nan, 0.05,
             -0.01, -0.01, -0.04, -0.27, -0.01, 0.12, 0.09, 0.05, 0.12, -0.01,
             -0.07, 0.51, 0.18, 0.09, -0.01, 0.15, 0.32, -0.21, 0.48, 0.51,
             -0.04, -0.01, -0.21, -0.34, -0.01, 0.38, 0.58, 0.05, 0.12, -0.01,
             -0.07, 0.05, -0.04, 0.51]

# Fonts: bold Times-like serif everywhere, also inside mathtext
plt.rcParams['font.family'] = 'Liberation Serif'
plt.rcParams['font.weight'] = 'bold'
plt.rcParams['axes.labelweight'] = 'bold'
plt.rcParams['mathtext.fontset'] = 'custom'
plt.rcParams['mathtext.rm'] = 'Liberation Serif:bold'
plt.rcParams['mathtext.it'] = 'Liberation Serif:bold'
plt.rcParams['mathtext.bf'] = 'Liberation Serif:bold'
plt.rcParams['axes.linewidth'] = 2.2

W, H = 1863.0, 2613.0
fig = plt.figure(figsize=(W / 100, H / 100), dpi=100)

# panel tops in pixels, every panel is 306 px high
tops = [32, 382, 744, 1101, 1452, 1805, 2164]
axes = []
for top in tops:
    ax = fig.add_axes([234 / W, 1 - (top + 306) / H, 1590 / W, 306 / H])
    ax.set_xlim(0, 44)
    ax.set_xticks(tick_days)
    ax.set_xticklabels(tick_labels)
    ax.tick_params(axis='x', direction='in', length=7, width=2, labelsize=35, pad=11)
    ax.tick_params(axis='y', which='major', direction='in', length=6, width=2,
                   labelsize=29, pad=8)
    ax.tick_params(axis='y', which='minor', direction='in', length=3.5, width=2)
    ax.tick_params(top=False, right=False)
    axes.append(ax)
for ax in axes[:-1]:
    ax.tick_params(labelbottom=False)


def two_line_label(ax, l1, l2, x1, x2, fs1, fs2):
    ax.text(x1, 0.5, l1, transform=ax.transAxes, rotation=90,
            ha='center', va='center', fontsize=fs1)
    ax.text(x2, 0.5, l2, transform=ax.transAxes, rotation=90,
            ha='center', va='center', fontsize=fs2)


def plot_stages(ax, t, v):
    t = np.array(t)
    v = np.array(v)
    edges = [0] + stage_lines + [44]
    for i in range(len(stage_colors)):
        m = (t >= edges[i]) & (t < edges[i + 1])
        ax.plot(t[m], v[m], color=stage_colors[i], lw=1.6)


def pair_legend(ax, labels):
    hs = [Line2D([], [], color=red, lw=4), Line2D([], [], color=purple, lw=4)]
    ax.legend(hs, labels, loc='upper right', bbox_to_anchor=(1.0, 1.03),
              frameon=False, fontsize=31, handlelength=2.2, handletextpad=0.2,
              labelspacing=0.6, borderaxespad=0.0)


# O3
ax = axes[0]
ax.plot(o3_time, o3_vals, color=purple, lw=2.0)
ax.set_ylim(0, 160)
ax.yaxis.set_major_locator(MultipleLocator(40))
ax.yaxis.set_minor_locator(MultipleLocator(20))
two_line_label(ax, 'O$_3$', '(ppbv)', -0.111, -0.056, 42, 31)
tr = blended_transform_factory(ax.transData, ax.transAxes)
ax.text(5.69, 0.89, 'Rotary tillage', transform=tr, ha='center', va='center', fontsize=21)
ax.text(15.77, 0.827, 'Flooding\nirrigation', transform=tr, ha='center', va='center',
        fontsize=21, linespacing=1.3)
ax.text(20.0, 0.97, 'Fertilization', transform=tr, ha='center', va='top',
        rotation=-90, fontsize=19)
ax.text(23.51, 0.905, 'After\nfertilization', transform=tr, ha='center', va='center',
        fontsize=18, linespacing=0.9)
ax.text(32.87, 0.89, 'Paddy cultivation and growth', transform=tr, ha='center',
        va='center', fontsize=21)
ax.text(41.75, 0.905, 'Top-dressing', transform=tr, ha='center', va='center', fontsize=21)

# NO
ax = axes[1]
ax.plot(no_time, no_lower, color=red, lw=1.6)
ax.plot(no_time, no_upper, color=purple, lw=1.6)
ax.set_ylim(0, 40)
ax.yaxis.set_major_locator(MultipleLocator(10))
ax.yaxis.set_minor_locator(MultipleLocator(5))
two_line_label(ax, 'NO', '(ppbv)', -0.111, -0.056, 42, 31)
pair_legend(ax, ['NO$_{\\mathrm{lower}}$', 'NO$_{\\mathrm{upper}}$'])

# NO2
ax = axes[2]
ax.plot(no2_time, no2_lower, color=red, lw=1.6)
ax.plot(no2_time, no2_upper, color=purple, lw=1.6)
ax.set_ylim(0, 40)
ax.yaxis.set_major_locator(MultipleLocator(10))
ax.yaxis.set_minor_locator(MultipleLocator(5))
two_line_label(ax, 'NO$_2$', '(ppbv)', -0.111, -0.056, 42, 31)
pair_legend(ax, ['NO$_{\\mathrm{2\\ lower}}$', 'NO$_{\\mathrm{2\\ upper}}$'])

# HONO
ax = axes[3]
ax.plot(hono_time, hono_lower, color=red, lw=1.6)
ax.plot(hono_time, hono_upper, color=purple, lw=1.6)
ax.set_ylim(0, 4)
ax.yaxis.set_major_locator(MultipleLocator(1))
ax.yaxis.set_minor_locator(MultipleLocator(0.5))
two_line_label(ax, 'HONO', '(ppbv)', -0.111, -0.056, 42, 31)
pair_legend(ax, ['HONO$_{\\mathrm{lower}}$', 'HONO$_{\\mathrm{upper}}$'])

# fluxes
flux_unit = '(nmol m$^{-2}$ s$^{-1}$)'
ax = axes[4]
plot_stages(ax, no_flux_time, no_flux)
ax.set_ylim(-2.5, 10)
ax.yaxis.set_major_locator(MultipleLocator(2.5))
ax.yaxis.set_minor_locator(MultipleLocator(1.25))
ax.yaxis.set_major_formatter(FormatStrFormatter('%.1f'))
two_line_label(ax, 'NO flux', flux_unit, -0.124, -0.083, 34, 33)

ax = axes[5]
plot_stages(ax, no2_flux_time, no2_flux)
ax.set_ylim(-4, 2)
ax.yaxis.set_major_locator(MultipleLocator(2))
ax.yaxis.set_minor_locator(MultipleLocator(1))
two_line_label(ax, 'NO$_2$ flux', flux_unit, -0.124, -0.083, 34, 33)

ax = axes[6]
plot_stages(ax, hono_flux_time, hono_flux)
ax.set_ylim(-1, 2)
ax.yaxis.set_major_locator(MultipleLocator(1))
ax.yaxis.set_minor_locator(MultipleLocator(0.5))
two_line_label(ax, 'HONO flux', flux_unit, -0.124, -0.083, 34, 33)
ax.set_xlabel('Date (yyyy/mm/dd)', fontsize=38, fontweight='bold', labelpad=12)

# dashed stage lines running through all panels
trans = blended_transform_factory(axes[0].transData, fig.transFigure)
for xv in stage_lines:
    fig.add_artist(Line2D([xv, xv], [1 - 44 / H, 1 - 2478 / H], transform=trans,
                          color='black', lw=2.7, linestyle=(0, (5.85, 5.6)), zorder=10))

plt.savefig('out.png', dpi=100)
